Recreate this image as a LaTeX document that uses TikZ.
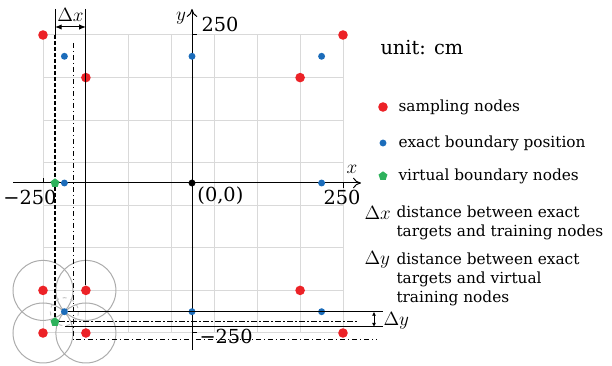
\documentclass[tikz,border=0pt]{standalone}
\usepackage{fontspec}
\setmainfont{DejaVu Serif}
\usetikzlibrary{arrows.meta,shapes.geometric}

\definecolor{sampred}{RGB}{236,34,39}
\definecolor{exactblue}{RGB}{27,108,186}
\definecolor{virtgreen}{RGB}{46,178,92}

\newcommand{\numsize}{\fontsize{14.5}{16}\selectfont}
\newcommand{\legsize}{\fontsize{11.5}{14.25}\selectfont}

\tikzset{every picture/.style={line width=0.75pt}}
\tikzset{
  sampnode/.style={circle,fill=sampred,inner sep=0pt,minimum size=7.2pt},
  exactnode/.style={circle,fill=exactblue,inner sep=0pt,minimum size=5.2pt},
  virtnode/.style={regular polygon,regular polygon sides=5,fill=virtgreen,inner sep=0pt,minimum size=7pt},
  gridline/.style={gray!30,line width=0.75pt},
  reach/.style={gray!65,line width=0.75pt},
  virtline/.style={line width=1.5pt,dash pattern=on 3pt off 1.5pt},
  ddline/.style={dash pattern=on 4pt off 2pt on 1pt off 2pt},
  dimarrow/.style={{Latex[length=5pt,width=4pt]}-{Latex[length=5pt,width=4pt]}},
}

\begin{document}
\begin{tikzpicture}[x=0.75pt,y=0.75pt,yscale=-1,xscale=1]
\useasboundingbox (0,0) rectangle (612,366);

%Grid
\draw [gridline] (43,35) -- (43,333) (85.9,35) -- (85.9,333) (128.7,35) -- (128.7,333) (171.6,35) -- (171.6,333)
  (214.4,35) -- (214.4,333) (257.3,35) -- (257.3,333) (300.1,35) -- (300.1,333) (343,35) -- (343,333) ;
\draw [gridline] (43,35) -- (343,35) (43,77.6) -- (343,77.6) (43,120.1) -- (343,120.1) (43,162.7) -- (343,162.7)
  (43,205.3) -- (343,205.3) (43,247.9) -- (343,247.9) (43,290.4) -- (343,290.4) (43,333) -- (343,333) ;

%Circles of influence
\draw [reach] (43,290.4) circle (30) ;
\draw [reach] (85.9,290.4) circle (30) ;
\draw [reach] (43,333) circle (30) ;
\draw [reach] (85.9,333) circle (30) ;
\draw [reach,gray!45,dashed] (64.4,311.7) circle (14) ;

%Axes
\coordinate (xl) at (13,183) ;
\coordinate (xr) at (361,183) ;
\coordinate (yb) at (192,350) ;
\coordinate (yt) at (192,9) ;
\draw [-{To[length=6pt,width=8pt]}] (xl) -- (xr) ;
\draw [-{To[length=6pt,width=8pt]}] (yb) -- (yt) ;
\draw (43,183) -- (43,178) (343,183) -- (343,188) (192,35) -- (197,35) (192,333) -- (197,333) ;

%Sampling nodes
\node [sampnode] (s1) at (43,35) {};
\node [sampnode] (s2) at (343,35) {};
\node [sampnode] (s3) at (85.9,77.6) {};
\node [sampnode] (s4) at (300.1,77.6) {};
\node [sampnode] (s5) at (43,290.4) {};
\node [sampnode] (s6) at (85.9,290.4) {};
\node [sampnode] (s7) at (300.1,290.4) {};
\node [sampnode] (s8) at (43,333) {};
\node [sampnode] (s9) at (85.9,333) {};
\node [sampnode] (s10) at (343,333) {};

%Exact boundary position
\node [exactnode] (e1) at (64.4,56.3) {};
\node [exactnode] (e2) at (192,56.3) {};
\node [exactnode] (e3) at (321.6,56.3) {};
\node [exactnode] (e4) at (64.4,183) {};
\node [exactnode] (e5) at (321.6,183) {};
\node [exactnode] (e6) at (64.4,311.7) {};
\node [exactnode] (e7) at (192,311.7) {};
\node [exactnode] (e8) at (321.6,311.7) {};
\node [circle,fill=black,inner sep=0pt,minimum size=5.2pt] (o) at (192,183) {};

%Virtual boundary nodes
\coordinate (vtop) at (55,35) ;
\node [virtnode] (v1) at (55,183) {};
\node [virtnode] (v2) at (55,322) {};

%Delta x
\coordinate (dxl) at (55,9) ;
\coordinate (dxr) at (85.9,9) ;
\coordinate (dxa) at (55,27) ;
\coordinate (dxb) at (85.9,27) ;
\draw (dxl) -- (vtop) ;
\draw [virtline] (vtop) -- (v1) -- (v2) ;
\draw (dxr) -- (s6) ;
\draw [dimarrow] (dxa) -- (dxb) ;

%Dash-dot lines
\coordinate (ddt) at (73,43) ;
\coordinate (ddb) at (73,340) ;
\coordinate (ddr) at (377,340) ;
\coordinate (vr) at (357,322) ;
\draw [ddline] (ddt) -- (ddb) -- (ddr) ;
\draw [ddline] (v2) -- (vr) ;

%Delta y
\coordinate (dyt) at (383,311.7) ;
\coordinate (dyl) at (65,327) ;
\coordinate (dyb) at (383,327) ;
\coordinate (dya) at (374,311.7) ;
\coordinate (dyc) at (374,327) ;
\draw (e6) -- (dyt) ;
\draw (dyl) -- (dyb) ;
\draw [{Latex[length=3pt,width=3pt]}-{Latex[length=3pt,width=3pt]}] (dya) -- (dyc) ;

% Text Node
\node [inner sep=0.75pt] (dxlbl) at (70.5,15) {\numsize$\Delta x$};
\node [anchor=west,inner sep=0.75pt] (dylbl) at (382,321) {\numsize$\Delta y$};
\node [inner sep=0.75pt] (xlbl) at (352,169) {\numsize$x$};
\node [inner sep=0.75pt] (ylbl) at (181,18) {\numsize$y$};
\node [anchor=west,inner sep=0.75pt] (ytop) at (200,24) {\numsize 250};
\node [anchor=west,inner sep=0.75pt] (ybot) at (198,336) {\numsize −250};
\node [inner sep=0.75pt] (xright) at (342,197) {\numsize 250};
\node [inner sep=0.75pt] (xleft) at (30,197) {\numsize −250};
\node [anchor=west,inner sep=0.75pt] (olbl) at (196,196) {\numsize (0,0)};

%Legend
\node [anchor=west,inner sep=0.75pt] (unit) at (379,48) {\numsize unit: cm};
\node [sampnode] (ls) at (383,107) {};
\node [anchor=west,inner sep=0.75pt] (lstxt) at (397,107) {\legsize sampling nodes};
\node [exactnode] (le) at (383,143) {};
\node [anchor=west,inner sep=0.75pt] (letxt) at (397,143) {\legsize exact boundary position};
\node [virtnode] (lv) at (383,176) {};
\node [anchor=west,inner sep=0.75pt] (lvtxt) at (397,176) {\legsize virtual boundary nodes};
\node [anchor=west,inner sep=0.75pt] (ldx) at (363,213) {\fontsize{14}{16}\selectfont$\Delta x$};
\node [anchor=north west,inner sep=0.75pt,align=left,font=\legsize] (ldxtxt) at (395,204) {distance between exact\\ targets and training nodes};
\node [anchor=west,inner sep=0.75pt] (ldy) at (363,260) {\fontsize{14}{16}\selectfont$\Delta y$};
\node [anchor=north west,inner sep=0.75pt,align=left,font=\legsize] (ldytxt) at (395,251) {distance between exact\\ targets and virtual\\ training nodes};

\end{tikzpicture}
\end{document}
